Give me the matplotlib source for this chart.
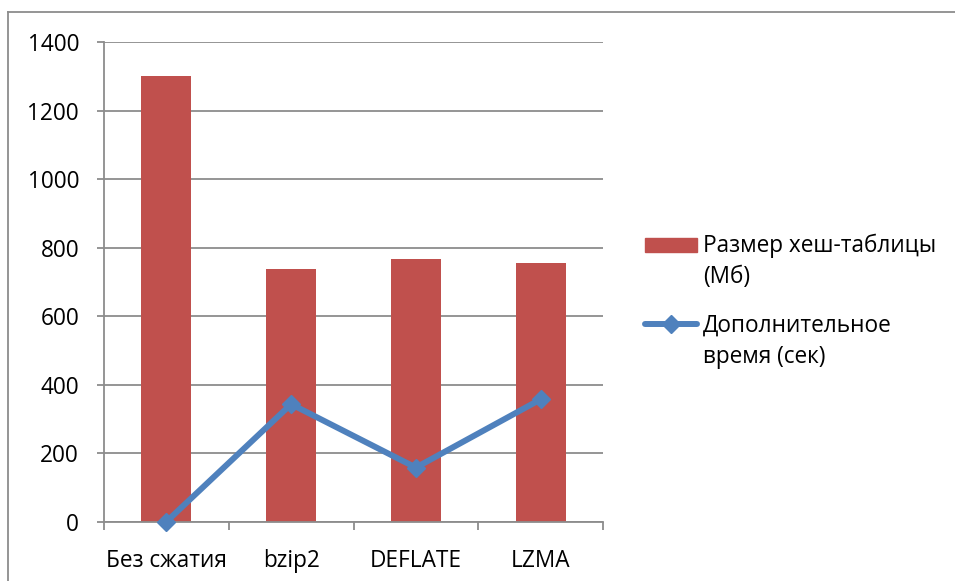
import matplotlib
matplotlib.use("Agg")
import matplotlib.pyplot as plt
from matplotlib.lines import Line2D
from matplotlib.patches import Rectangle
import numpy as np

categories = ["Без сжатия", "bzip2", "DEFLATE", "LZMA"]
table_size_mb = [1300, 738, 767, 755]
extra_time_sec = [0, 343, 158, 357]
y_ticks = [0, 200, 400, 600, 800, 1000, 1200, 1400]
label_size = ["Размер хеш-таблицы", "(Мб)"]
label_time = ["Дополнительное", "время (сек)"]

plt.rcParams['font.family'] = ['Open Sans', 'DejaVu Sans']

BAR = "#C0504D"
LINE = "#4F81BD"
GRID = "#8C8C8C"
W, H = 955, 581

fig = plt.figure(figsize=(9.55, 5.81), dpi=100)
ax = fig.add_axes([104/W, 1-521.7/H, (603-104)/W, (521.7-42)/H])

x = np.arange(len(categories))
ax.bar(x, table_size_mb, width=0.4, color=BAR, zorder=2)
ax.plot(x, extra_time_sec, color=LINE, lw=4.3, marker="D", markersize=9,
        zorder=3, solid_capstyle="round", solid_joinstyle="round", clip_on=False)

ax.set_xlim(-0.5, len(categories) - 0.5)
ax.set_ylim(0, 1400)
ax.set_yticks(y_ticks)
ax.yaxis.grid(True, color=GRID, lw=1.3, zorder=0)
ax.set_axisbelow(True)

ax.set_xticks(x)
ax.set_xticklabels(categories)
ax.set_xticks(np.arange(-0.5, len(categories)), minor=True)
ax.tick_params(axis="x", which="major", length=0, pad=20, labelsize=16.3)
ax.tick_params(axis="x", which="minor", length=6, width=1.3, color=GRID, direction="out")
ax.tick_params(axis="y", length=5, width=1.3, color=GRID, pad=13, labelsize=16.3)

for s in ["top", "right"]:
    ax.spines[s].set_visible(False)
for s in ["left", "bottom"]:
    ax.spines[s].set_color(GRID)
    ax.spines[s].set_linewidth(1.3)

# legend (drawn manually to match layout of reference)
tf = fig.transFigure
def fx(px): return px / W
def fy(py): return 1 - py / H

fig.add_artist(Rectangle((fx(645), fy(252)), fx(697) - fx(645), (252 - 238) / H,
                         transform=tf, color=BAR))
fig.add_artist(Line2D([fx(645), fx(697)], [fy(324), fy(324)], transform=tf,
                      color=LINE, lw=4.3, solid_capstyle="round"))
fig.add_artist(Line2D([fx(671)], [fy(324)], transform=tf, color=LINE,
                      marker="D", markersize=9, lw=0))
for i, line in enumerate(label_size):
    fig.text(fx(703), fy(252 + 31 * i), line, transform=tf, fontsize=16.3,
             va="baseline", ha="left")
for i, line in enumerate(label_time):
    fig.text(fx(703), fy(332 + 31 * i), line, transform=tf, fontsize=16.3,
             va="baseline", ha="left")

# chart-area border (top and left edges visible)
fig.add_artist(Line2D([fx(8), 1], [fy(12), fy(12)], transform=tf, color=GRID, lw=1.3))
fig.add_artist(Line2D([fx(8), fx(8)], [0, fy(12)], transform=tf, color=GRID, lw=1.3))

fig.savefig("out.png", dpi=100)
